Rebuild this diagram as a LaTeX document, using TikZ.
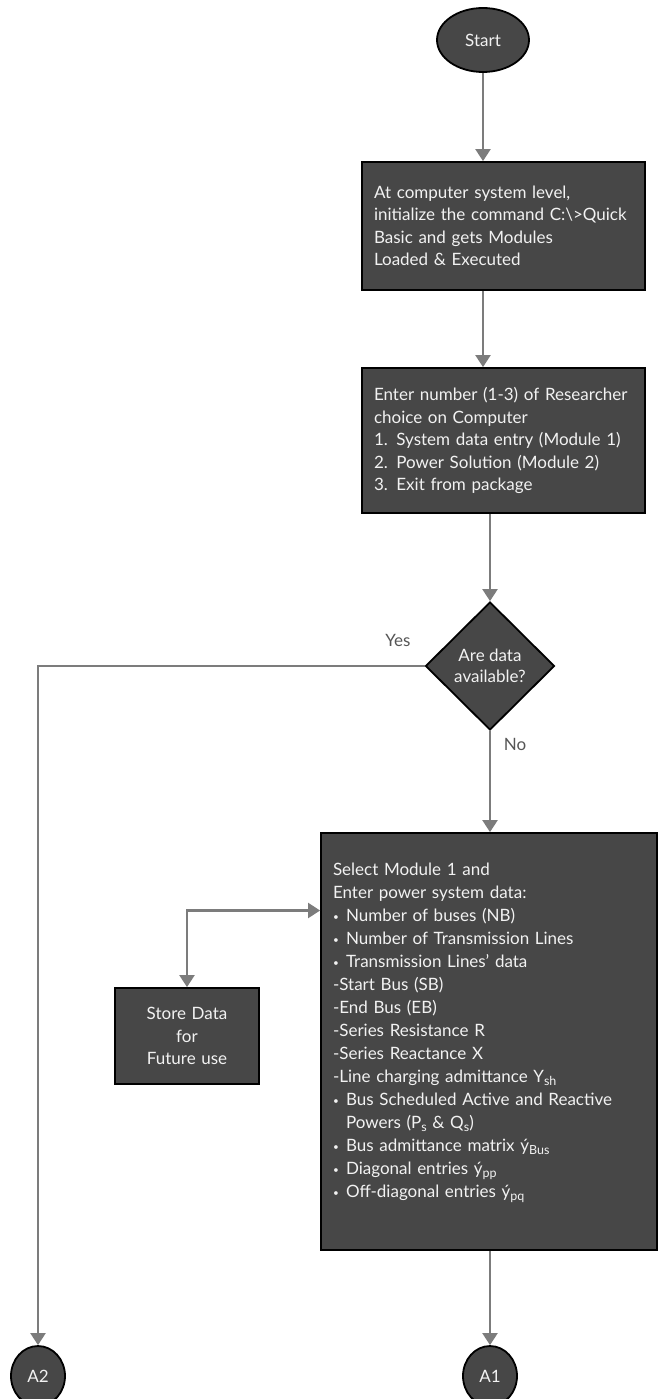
\documentclass[tikz,border=0pt]{standalone}
\usepackage{fontspec}
\setmainfont{Lato}
\usetikzlibrary{shapes.geometric,arrows.meta}
\definecolor{boxfill}{HTML}{474747}
\definecolor{linegray}{HTML}{7C7C7C}
\definecolor{labelgray}{HTML}{555555}
\tikzset{
  block/.style={draw=black, line width=1.8pt, fill=boxfill, text=white!95!black,
    font=\fontsize{17}{22.5}\selectfont, inner xsep=12pt, align=left},
  term/.style={ellipse, draw=black, line width=1.8pt, fill=boxfill, text=white!95!black,
    font=\fontsize{17}{20}\selectfont, inner sep=0pt},
  flow/.style={linegray, line width=2.2pt, -{Triangle[width=15pt,length=12pt]}},
  answer/.style={text=labelgray, font=\fontsize{17}{20}\selectfont}
}
\newcommand{\bul}{\makebox[13pt][l]{\raisebox{1pt}{\fontsize{10}{10}\selectfont\textbullet}}}
\newcommand{\lowidx}[1]{\raisebox{-3.5pt}{\fontsize{12.5}{12.5}\selectfont #1}}
\begin{document}
\begin{tikzpicture}[x=1pt,y=-1pt]
\useasboundingbox (0,0) rectangle (665,1399);
%\draw[step=50,gray,very thin] (0,0) grid (665,1399); %background grid
\node[term, minimum width=92pt, minimum height=64pt] (start) at (483,40) {Start};
\node[block, text width=259pt, minimum height=128pt] (init) at (503.5,226)
  {At computer system level,\\
   initialize the command C:\textbackslash{}>Quick\\
   Basic and gets Modules\\
   Loaded \& Executed};
\node[block, text width=259pt, minimum height=145pt] (choice) at (503.5,440.5)
  {Enter number (1-3) of Researcher\\
   choice on Computer\\
   1. System data entry (Module 1)\\
   2. Power Solution (Module 2)\\
   3. Exit from package};
\node[diamond, draw=black, line width=1.8pt, fill=boxfill, text=white!95!black,
  font=\fontsize{17}{21}\selectfont, align=center, inner sep=0pt,
  minimum width=129pt, minimum height=128pt] (avail) at (490,666) {Are data\\available?};
\node[answer] (yes) at (398,640) {Yes};
\node[answer] (no) at (515,744) {No};
\node[block, text width=312pt, minimum height=417pt,
  font=\fontsize{17}{23}\selectfont] (entry) at (489,1041.5)
  {Select Module 1 and\\
   Enter power system data:\\
   \bul Number of buses (NB)\\
   \bul Number of Transmission Lines\\
   \bul Transmission Lines' data\\
   -Start Bus (SB)\\
   -End Bus (EB)\\
   -Series Resistance R\\
   -Series Reactance X\\
   -Line charging admittance Y\lowidx{sh}\\
   \bul Bus Scheduled Active and Reactive\\
   \hspace*{13pt}Powers (P\lowidx{s} \& Q\lowidx{s})\\
   \bul Bus admittance matrix ý\lowidx{Bus}\\
   \bul Diagonal entries ý\lowidx{pp}\\
   \bul Off-diagonal entries ý\lowidx{pq}\\
   \mbox{}};
\node[block, align=center, text width=120pt, minimum height=96pt] (store) at (187,1036)
  {Store Data\\for\\Future use};
\node[term, minimum width=54pt, minimum height=60pt] (a1) at (490,1376) {A1};
\node[term, minimum width=54pt, minimum height=60pt] (a2) at (38,1376) {A2};
% connectors
\draw[flow] (start.south) -- (start.south |- init.north);
\draw[flow] (start.south |- init.south) -- (start.south |- choice.north);
\draw[flow] (avail.north |- choice.south) -- (avail.north);
\draw[flow] (avail.south) -- (avail.south |- entry.north);
\draw[flow] (avail.west) -| (a2.north);
\draw[flow] (a1.north |- entry.south) -- (a1.north);
\draw[flow, {Triangle[width=15pt,length=12pt]}-{Triangle[width=15pt,length=12pt]}]
  (store.north) |- ([yshift=131pt]entry.west);
\end{tikzpicture}
\end{document}
